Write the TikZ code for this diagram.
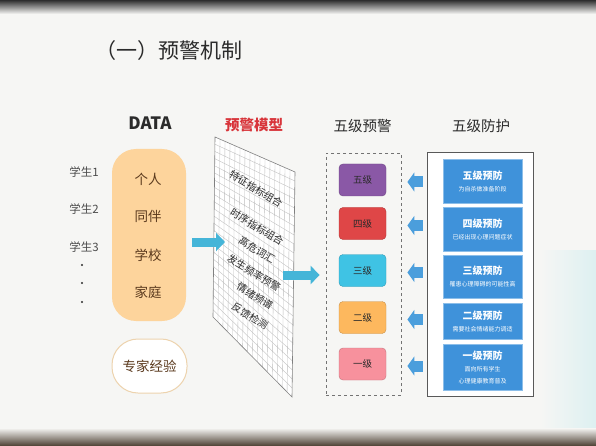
\documentclass[tikz,border=0pt]{standalone}
\usepackage{fontspec}
\setmainfont{Noto Sans CJK SC}
\usetikzlibrary{arrows.meta,calc,positioning}
\definecolor{cbg}{HTML}{F6F6F4}
\definecolor{cband}{HTML}{2E2E2E}
\definecolor{cglow}{HTML}{DDF0F1}
\definecolor{cink}{HTML}{2B2B2B}
\definecolor{cred}{HTML}{D8343A}
\definecolor{corange}{HTML}{FDD49C}
\definecolor{cbrown}{HTML}{5B3A1E}
\definecolor{ctan}{HTML}{EDD3AE}
\definecolor{ccyan}{HTML}{45B5D8}
\definecolor{cblue}{HTML}{3F92DA}
\definecolor{carrow}{HTML}{4B9EDC}
\definecolor{cgrid}{HTML}{BDBDBD}
\definecolor{lvfive}{HTML}{8A58A6}
\definecolor{lvfour}{HTML}{DF4647}
\definecolor{lvthree}{HTML}{3FC3E4}
\definecolor{lvtwo}{HTML}{FDB85E}
\definecolor{lvone}{HTML}{F7919D}
\newcommand{\subfont}{\fontsize{6}{11}\selectfont}

\begin{document}
\begin{tikzpicture}[
    x=1pt, y=-1pt,
    hdr/.style={font=\fontsize{14.5}{15}\selectfont, text=cink},
    stu/.style={font=\fontsize{11.5}{12}\selectfont, text=cink!85},
    item/.style={font=\fontsize{13.5}{14}\selectfont, text=cbrown},
    tilt/.style={rotate=-31, inner sep=0pt, font=\fontsize{10}{11}\selectfont, text=cink},
    lvl/.style={draw=#1!80!black, fill=#1, rounded corners=4pt,
      minimum width=47pt, minimum height=32pt,
      font=\fontsize{9.5}{10}\selectfont, text=cink},
    prev/.style={draw=cblue!60!white, line width=0.8pt, fill=cblue,
      minimum width=79pt, text=white, align=center, inner sep=1pt},
    gridline/.style={draw=cgrid, line width=0.35pt},
    fat/.style={line width=9pt, draw=ccyan, -{Triangle[length=9pt, width=18pt]}},
    back/.style={line width=11pt, draw=carrow, -{Triangle[length=7pt, width=19pt]}},
  ]
  \useasboundingbox (0,0) rectangle (596,446);
  % slide and photo edges
  \fill[cbg] (0,0) rectangle (596,446);
  \shade[top color=cband, bottom color=cbg] (0,0) rectangle (596,14);
  \shade[left color=cbg, right color=cglow] (540,250) rectangle (596,430);
  \shade[top color=cbg, bottom color=cband!80!brown] (0,428) rectangle (596,446);

  \node[anchor=west, font=\fontsize{21}{22}\selectfont, text=cink] (title) at (92,51) {（一）预警机制};

  % column heads
  \node[font=\fontsize{17}{18}\selectfont\bfseries, text=cink] (hdata) at (150,123) {DATA};
  \node[hdr, text=cred, font=\fontsize{14.5}{15}\selectfont\bfseries] (hmodel) at (254,125) {预警模型};
  \node[hdr] (hwarn) at (362.5,126) {五级预警};
  \node[hdr] (hguard) at (481,126) {五级防护};

  % students
  \foreach \k/\yy in {1/172, 2/209, 3/247}
    \node[stu] (s\k) at (84,\yy) {学生\k};
  \foreach \yy in {265, 283, 302}
    \fill[cink] (82,\yy) circle (1.1pt);

  % data sources
  \node[fill=corange, rounded corners=24pt, minimum width=74pt, minimum height=172pt] (data) at (149,235) {};
  \foreach \t/\yy in {个人/179, 同伴/216, 学校/255, 家庭/292}
    \node[item] at (148,\yy) {\t};
  \node[draw=ctan, line width=1pt, fill=white, rounded corners=26pt,
    minimum width=75pt, minimum height=54pt, item] (expert) at (149.5,366) {专家经验};

  % the model sheet
  \coordinate (A) at (215,137);
  \coordinate (B) at (295,172);
  \coordinate (C) at (292,397);
  \coordinate (D) at (213,317);
  \fill[white] (A) -- (B) -- (C) -- (D) -- cycle;
  \foreach \i in {1,...,15} {
    \pgfmathsetmacro\t{\i/16}
    \draw[gridline] ($(A)!\t!(B)$) -- ($(D)!\t!(C)$);
  }
  \foreach \j in {1,...,24} {
    \pgfmathsetmacro\s{\j/25}
    \draw[gridline] ($(A)!\s!(D)$) -- ($(B)!\s!(C)$);
  }
  \draw[gray, line width=0.6pt] (A) -- (B) -- (C) -- (D) -- cycle;
  \node[tilt] (m1) at (256,189) {特征指标组合};
  \node[tilt] (m2) at (257,227) {时序指标组合};
  \node[tilt] (m3) at (257,250) {高危词汇};
  \node[tilt] (m4) at (254,273) {发生频率预警};
  \node[tilt] (m5) at (255,296) {情绪频谱};
  \node[tilt] (m6) at (250,316) {反馈检测};
  \coordinate (min) at (225,242);
  \coordinate (mout) at (283,275);

  % five warning levels
  \node[draw=gray!90!black, dashed, line width=0.8pt, minimum width=75pt, minimum height=242pt] (warn) at (363.5,274) {};
  \node[lvl=lvfive] (l5) at (362.5,180) {五级};
  \node[lvl=lvfour] (l4) at (362.5,223.5) {四级};
  \node[lvl=lvthree] (l3) at (362.5,270.5) {三级};
  \node[lvl=lvtwo] (l2) at (362.5,317.5) {二级};
  \node[lvl=lvone] (l1) at (362.5,364) {一级};

  % five protection levels
  \node[draw=gray!70!black, line width=1pt, fill=white, minimum width=106pt, minimum height=243pt] (guard) at (480,274.5) {};
  \foreach \n/\yy/\hh/\ttl/\sub in {
      5/181/44/五级预防/为自杀做准备阶段,
      4/229/44/四级预防/已经出现心理问题症状,
      3/276.5/43/三级预防/罹患心理障碍的可能性高,
      2/321/36/二级预防/需要社会情绪能力调适,
      1/367/46/一级预防/{面向所有学生\\\subfont 心理健康教育普及}}
    \node[prev, minimum height=\hh pt] (p\n) at (482.5,\yy)
      {\fontsize{10}{14}\selectfont\bfseries \ttl\\ \subfont \sub};

  % arrows
  \draw[fat] ($(data.east |- min)+(6,0)$) -- (min);
  \draw[fat] (mout) -- ($(warn.west |- mout)+(-6,0)$);
  \foreach \n in {5,...,1}
    \draw[back] ($(guard.west |- l\n)+(-4,2)$) -- ($(warn.east |- l\n)+(6,2)$);
\end{tikzpicture}
\end{document}
